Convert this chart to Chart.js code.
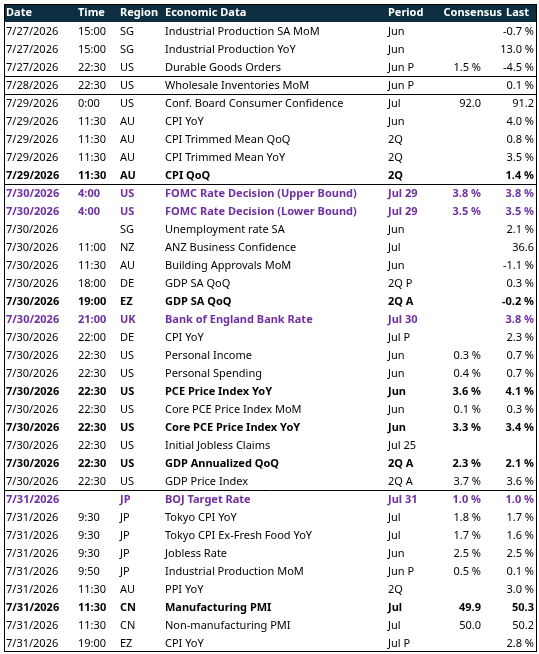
<!DOCTYPE html>
<html>
<head>
<meta charset="UTF-8">
<script src="https://cdn.jsdelivr.net/npm/chart.js"></script>
<style>
  body { margin: 0; background: #fff; }
  #wrap { width: 539px; height: 654px; }
</style>
</head>
<body>
<div id="wrap"><canvas id="tbl"></canvas></div>
<script>
const headers = ['Date', 'Time', 'Region', 'Economic Data', 'Period', 'Consensus', 'Last'];
const dates = ['7/27/2026','7/27/2026','7/27/2026','7/28/2026','7/29/2026','7/29/2026','7/29/2026','7/29/2026','7/29/2026',
  '7/30/2026','7/30/2026','7/30/2026','7/30/2026','7/30/2026','7/30/2026','7/30/2026','7/30/2026','7/30/2026','7/30/2026',
  '7/30/2026','7/30/2026','7/30/2026','7/30/2026','7/30/2026','7/30/2026','7/30/2026',
  '7/31/2026','7/31/2026','7/31/2026','7/31/2026','7/31/2026','7/31/2026','7/31/2026','7/31/2026','7/31/2026'];
const times = ['15:00','15:00','22:30','22:30','0:00','11:30','11:30','11:30','11:30',
  '4:00','4:00','','11:00','11:30','18:00','19:00','21:00','22:00','22:30',
  '22:30','22:30','22:30','22:30','22:30','22:30','22:30',
  '','9:30','9:30','9:30','9:50','11:30','11:30','11:30','19:00'];
const regions = ['SG','SG','US','US','US','AU','AU','AU','AU',
  'US','US','SG','NZ','AU','DE','EZ','UK','DE','US',
  'US','US','US','US','US','US','US',
  'JP','JP','JP','JP','JP','AU','CN','CN','EZ'];
const events = ['Industrial Production SA MoM','Industrial Production YoY','Durable Goods Orders','Wholesale Inventories MoM',
  'Conf. Board Consumer Confidence','CPI YoY','CPI Trimmed Mean QoQ','CPI Trimmed Mean YoY','CPI QoQ',
  'FOMC Rate Decision (Upper Bound)','FOMC Rate Decision (Lower Bound)','Unemployment rate SA','ANZ Business Confidence',
  'Building Approvals MoM','GDP SA QoQ','GDP SA QoQ','Bank of England Bank Rate','CPI YoY','Personal Income',
  'Personal Spending','PCE Price Index YoY','Core PCE Price Index MoM','Core PCE Price Index YoY','Initial Jobless Claims',
  'GDP Annualized QoQ','GDP Price Index','BOJ Target Rate','Tokyo CPI YoY','Tokyo CPI Ex-Fresh Food YoY','Jobless Rate',
  'Industrial Production MoM','PPI YoY','Manufacturing PMI','Non-manufacturing PMI','CPI YoY'];
const periods = ['Jun','Jun','Jun P','Jun P','Jul','Jun','2Q','2Q','2Q',
  'Jul 29','Jul 29','Jun','Jul','Jun','2Q P','2Q A','Jul 30','Jul P','Jun',
  'Jun','Jun','Jun','Jun','Jul 25','2Q A','2Q A',
  'Jul 31','Jul','Jul','Jun','Jun P','2Q','Jul','Jul','Jul P'];
const consensus = ['','','1.5 %','','92.0','','','','',
  '3.8 %','3.5 %','','','','','','','','0.3 %',
  '0.4 %','3.6 %','0.1 %','3.3 %','','2.3 %','3.7 %',
  '1.0 %','1.8 %','1.7 %','2.5 %','0.5 %','','49.9','50.0',''];
const last = ['-0.7 %','13.0 %','-4.5 %','0.1 %','91.2','4.0 %','0.8 %','3.5 %','1.4 %',
  '3.8 %','3.5 %','2.1 %','36.6','-1.1 %','0.3 %','-0.2 %','3.8 %','2.3 %','0.7 %',
  '0.7 %','4.1 %','0.3 %','3.4 %','','2.1 %','3.6 %',
  '1.0 %','1.7 %','1.6 %','2.5 %','0.1 %','3.0 %','50.3','50.2','2.8 %'];
// 0 = normal, 1 = high impact, 2 = central bank
const importance = [0,0,0,0,0,0,0,0,1, 2,2,0,0,0,0,1,2,0,0, 0,1,0,1,0,1,0, 2,0,0,0,0,0,1,0,0];
const groupEnds = [2, 3, 8, 25];

const colX = [6, 78, 120, 165, 388, 481, 534]; // last two right-aligned
const font = '"Noto Sans", sans-serif';

const tablePlugin = {
  id: 'tablePlugin',
  afterDraw(chart) {
    const ctx = chart.ctx;
    const y = chart.scales.y;
    const half = Math.abs(y.getPixelForValue(1) - y.getPixelForValue(0)) / 2;
    const left = 4, right = 537;
    ctx.save();
    // header
    const hy = y.getPixelForValue(-1);
    ctx.fillStyle = '#0c2e40';
    ctx.fillRect(left, hy - half, right - left, half * 2);
    ctx.textBaseline = 'middle';
    ctx.font = 'bold 11px ' + font;
    ctx.fillStyle = '#ffffff';
    headers.forEach((h, c) => {
      ctx.textAlign = c >= 5 ? 'right' : 'left';
      let x = colX[c];
      if (c === 5) x = 502;
      if (c === 6) x = 506, ctx.textAlign = 'left';
      ctx.fillText(h, x, hy);
    });
    // rows
    dates.forEach((d, i) => {
      const py = y.getPixelForValue(i);
      const imp = importance[i];
      ctx.font = (imp ? 'bold ' : '') + '11px ' + font;
      ctx.fillStyle = imp === 2 ? '#7030a0' : '#000000';
      const cells = [d, times[i], regions[i], events[i], periods[i], consensus[i], last[i]];
      cells.forEach((t, c) => {
        ctx.textAlign = c >= 5 ? 'right' : 'left';
        ctx.fillText(t, colX[c], py + 0.5);
      });
    });
    // borders
    ctx.strokeStyle = '#000000';
    ctx.lineWidth = 1;
    const top = hy + half, bottom = y.getPixelForValue(dates.length - 1) + half;
    ctx.strokeRect(left + 0.5, hy - half + 0.5, right - left - 1, bottom - hy + half - 1);
    groupEnds.forEach(g => {
      const ly = Math.round(y.getPixelForValue(g) + half) + 0.5;
      ctx.beginPath();
      ctx.moveTo(left, ly);
      ctx.lineTo(right, ly);
      ctx.stroke();
    });
    ctx.restore();
  }
};

new Chart(document.getElementById('tbl'), {
  type: 'scatter',
  data: {
    datasets: [{ data: dates.map((d, i) => ({ x: 0, y: i })), pointRadius: 0 }]
  },
  options: {
    responsive: true,
    maintainAspectRatio: false,
    animation: false,
    layout: { padding: { top: 4, bottom: 2, left: 0, right: 0 } },
    scales: {
      x: { display: false, min: 0, max: 539 },
      y: { display: false, min: -1.5, max: dates.length - 0.5, reverse: true }
    },
    plugins: { legend: { display: false }, tooltip: { enabled: false } }
  },
  plugins: [tablePlugin]
});
</script>
</body>
</html>
